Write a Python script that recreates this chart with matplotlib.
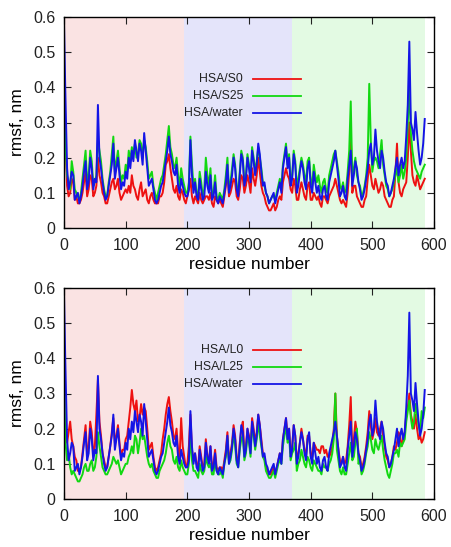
import matplotlib
matplotlib.use("Agg")
import matplotlib.pyplot as plt
import numpy as np

plt.rcParams['font.family'] = ['Liberation Sans', 'DejaVu Sans']

# residue numbers: main samples every 5 residues (plus the steep start),
# and in-between samples at the half steps
residue = [0, 2] + list(range(5, 590, 5))
residue_mid = list(np.arange(7.5, 585, 5))

# domain boundaries (I, II, III)
domain_edges = [0, 195, 370, 585]
domain_colors = ['#fae3e3', '#e4e4fa', '#e3fae3']

# HSA in water (same in both panels)
water = [0.58, 0.40,
         0.17, 0.13, 0.15, 0.09, 0.07, 0.12, 0.19, 0.13, 0.17, 0.14,
         0.35, 0.17, 0.10, 0.09, 0.15, 0.24, 0.17, 0.15, 0.13, 0.16,
         0.20, 0.22, 0.25, 0.19, 0.22, 0.27, 0.17, 0.13, 0.11, 0.07,
         0.10, 0.13, 0.19, 0.26, 0.19, 0.15, 0.12, 0.14, 0.10, 0.09,
         0.25, 0.10, 0.09, 0.14, 0.08, 0.16, 0.10, 0.08, 0.13, 0.07,
         0.08, 0.10, 0.18, 0.12, 0.20, 0.11, 0.15, 0.19, 0.14, 0.17,
         0.22, 0.15, 0.24, 0.16, 0.13, 0.09, 0.08, 0.10, 0.09, 0.13,
         0.17, 0.23, 0.20, 0.14, 0.18, 0.12, 0.19, 0.13, 0.17, 0.12,
         0.16, 0.10, 0.09, 0.11, 0.09, 0.13, 0.17, 0.22, 0.14, 0.10,
         0.09, 0.14, 0.22, 0.15, 0.17, 0.11, 0.09, 0.14, 0.22, 0.18,
         0.28, 0.19, 0.22, 0.16, 0.12, 0.10, 0.14, 0.20, 0.18, 0.17,
         0.26, 0.53, 0.28, 0.33, 0.22, 0.20, 0.31]
water_mid = [0.11, 0.16, 0.08, 0.10, 0.09, 0.16, 0.11, 0.20, 0.11, 0.13,
             0.20, 0.13, 0.08, 0.12, 0.18, 0.14, 0.20, 0.11, 0.12, 0.14,
             0.17, 0.19, 0.22, 0.24, 0.18, 0.22, 0.12, 0.14, 0.08, 0.08,
             0.12, 0.16, 0.22, 0.21, 0.16, 0.18, 0.10, 0.12, 0.09, 0.11,
             0.15, 0.13, 0.08, 0.11, 0.09, 0.12, 0.15, 0.09, 0.08, 0.09,
             0.07, 0.13, 0.10, 0.15, 0.17, 0.09, 0.21, 0.12, 0.20, 0.13,
             0.19, 0.18, 0.21, 0.12, 0.10, 0.07, 0.09, 0.07, 0.11, 0.10,
             0.20, 0.17, 0.12, 0.21, 0.10, 0.16, 0.17, 0.11, 0.19, 0.10,
             0.13, 0.12, 0.08, 0.12, 0.08, 0.15, 0.19, 0.18, 0.09, 0.12,
             0.08, 0.18, 0.12, 0.19, 0.13, 0.08, 0.11, 0.17, 0.24, 0.20,
             0.22, 0.17, 0.20, 0.13, 0.09, 0.12, 0.17, 0.15, 0.20, 0.19,
             0.35, 0.30, 0.25, 0.27, 0.18, 0.24]

# HSA/S0
s0 = [0.40, 0.28,
      0.12, 0.10, 0.13, 0.09, 0.07, 0.10, 0.16, 0.11, 0.14, 0.10,
      0.20, 0.13, 0.09, 0.07, 0.11, 0.14, 0.12, 0.10, 0.09, 0.11,
      0.12, 0.15, 0.11, 0.08, 0.13, 0.10, 0.08, 0.09, 0.08, 0.07,
      0.09, 0.10, 0.18, 0.21, 0.14, 0.10, 0.09, 0.11, 0.08, 0.09,
      0.14, 0.07, 0.08, 0.10, 0.07, 0.09, 0.08, 0.07, 0.09, 0.07,
      0.07, 0.09, 0.16, 0.10, 0.14, 0.09, 0.11, 0.14, 0.12, 0.13,
      0.17, 0.12, 0.20, 0.12, 0.09, 0.06, 0.05, 0.07, 0.06, 0.09,
      0.13, 0.17, 0.14, 0.10, 0.12, 0.08, 0.13, 0.09, 0.12, 0.08,
      0.10, 0.08, 0.07, 0.09, 0.08, 0.09, 0.11, 0.14, 0.10, 0.07,
      0.07, 0.10, 0.27, 0.12, 0.09, 0.07, 0.06, 0.09, 0.18, 0.12,
      0.14, 0.10, 0.13, 0.09, 0.07, 0.06, 0.09, 0.24, 0.10, 0.11,
      0.13, 0.30, 0.15, 0.12, 0.13, 0.12, 0.14]
s0_mid = [0.09, 0.14, 0.08, 0.07, 0.08, 0.13, 0.09, 0.15, 0.09, 0.12,
          0.15, 0.10, 0.07, 0.09, 0.13, 0.11, 0.14, 0.08, 0.10, 0.10,
          0.10, 0.12, 0.09, 0.11, 0.09, 0.11, 0.07, 0.10, 0.07, 0.07,
          0.09, 0.13, 0.19, 0.17, 0.11, 0.12, 0.08, 0.10, 0.07, 0.11,
          0.09, 0.09, 0.07, 0.08, 0.08, 0.09, 0.10, 0.06, 0.08, 0.08,
          0.06, 0.12, 0.09, 0.12, 0.13, 0.08, 0.15, 0.10, 0.15, 0.10,
          0.14, 0.15, 0.16, 0.10, 0.07, 0.05, 0.06, 0.05, 0.08, 0.08,
          0.15, 0.15, 0.11, 0.14, 0.08, 0.11, 0.11, 0.08, 0.13, 0.08,
          0.09, 0.09, 0.06, 0.09, 0.07, 0.10, 0.12, 0.12, 0.08, 0.08,
          0.06, 0.16, 0.10, 0.12, 0.08, 0.06, 0.08, 0.14, 0.15, 0.11,
          0.12, 0.11, 0.12, 0.08, 0.06, 0.08, 0.16, 0.13, 0.09, 0.12,
          0.20, 0.22, 0.13, 0.15, 0.11, 0.13]

# HSA/S25
s25 = [0.33, 0.25,
       0.15, 0.11, 0.16, 0.10, 0.08, 0.14, 0.22, 0.15, 0.19, 0.13,
       0.25, 0.19, 0.11, 0.09, 0.16, 0.26, 0.19, 0.17, 0.15, 0.18,
       0.22, 0.23, 0.24, 0.21, 0.24, 0.25, 0.19, 0.15, 0.12, 0.08,
       0.12, 0.15, 0.21, 0.29, 0.21, 0.17, 0.15, 0.17, 0.12, 0.10,
       0.26, 0.12, 0.10, 0.16, 0.09, 0.20, 0.12, 0.09, 0.15, 0.08,
       0.09, 0.11, 0.20, 0.13, 0.21, 0.12, 0.16, 0.20, 0.15, 0.18,
       0.23, 0.16, 0.23, 0.17, 0.12, 0.09, 0.08, 0.09, 0.10, 0.14,
       0.18, 0.24, 0.21, 0.15, 0.19, 0.14, 0.20, 0.15, 0.19, 0.14,
       0.18, 0.13, 0.12, 0.13, 0.11, 0.15, 0.19, 0.22, 0.16, 0.11,
       0.10, 0.16, 0.36, 0.17, 0.15, 0.12, 0.10, 0.15, 0.41, 0.16,
       0.20, 0.17, 0.25, 0.15, 0.11, 0.10, 0.13, 0.17, 0.15, 0.14,
       0.20, 0.40, 0.22, 0.17, 0.15, 0.16, 0.18]
s25_mid = [0.13, 0.19, 0.11, 0.09, 0.10, 0.18, 0.13, 0.22, 0.12, 0.15,
           0.22, 0.14, 0.09, 0.13, 0.21, 0.16, 0.22, 0.13, 0.14, 0.16,
           0.19, 0.21, 0.20, 0.25, 0.20, 0.23, 0.14, 0.16, 0.10, 0.10,
           0.14, 0.18, 0.25, 0.23, 0.18, 0.20, 0.12, 0.14, 0.10, 0.13,
           0.18, 0.14, 0.09, 0.13, 0.11, 0.15, 0.17, 0.10, 0.09, 0.10,
           0.08, 0.15, 0.11, 0.17, 0.18, 0.10, 0.22, 0.13, 0.21, 0.14,
           0.20, 0.19, 0.20, 0.13, 0.10, 0.07, 0.09, 0.08, 0.12, 0.11,
           0.21, 0.18, 0.13, 0.22, 0.12, 0.17, 0.18, 0.13, 0.20, 0.12,
           0.15, 0.15, 0.10, 0.14, 0.10, 0.17, 0.21, 0.19, 0.12, 0.13,
           0.11, 0.22, 0.14, 0.20, 0.13, 0.09, 0.12, 0.20, 0.25, 0.19,
           0.19, 0.21, 0.18, 0.12, 0.09, 0.11, 0.15, 0.13, 0.18, 0.16,
           0.30, 0.27, 0.19, 0.16, 0.14, 0.17]

# HSA/L0
l0 = [0.23, 0.20,
      0.16, 0.22, 0.15, 0.11, 0.08, 0.13, 0.21, 0.15, 0.19, 0.15,
      0.34, 0.18, 0.11, 0.09, 0.15, 0.23, 0.18, 0.16, 0.14, 0.17,
      0.22, 0.31, 0.25, 0.22, 0.27, 0.26, 0.20, 0.15, 0.12, 0.08,
      0.11, 0.17, 0.24, 0.29, 0.22, 0.17, 0.14, 0.23, 0.12, 0.10,
      0.24, 0.11, 0.10, 0.15, 0.09, 0.17, 0.11, 0.09, 0.14, 0.08,
      0.09, 0.11, 0.19, 0.13, 0.21, 0.12, 0.16, 0.22, 0.15, 0.18,
      0.23, 0.16, 0.24, 0.17, 0.12, 0.08, 0.07, 0.09, 0.09, 0.13,
      0.17, 0.23, 0.20, 0.15, 0.18, 0.13, 0.20, 0.14, 0.18, 0.13,
      0.16, 0.14, 0.13, 0.15, 0.14, 0.12, 0.15, 0.30, 0.14, 0.10,
      0.10, 0.15, 0.29, 0.17, 0.19, 0.12, 0.10, 0.15, 0.25, 0.17,
      0.23, 0.18, 0.22, 0.15, 0.11, 0.10, 0.15, 0.16, 0.18, 0.17,
      0.24, 0.30, 0.22, 0.24, 0.17, 0.16, 0.19]
l0_mid = [0.19, 0.17, 0.12, 0.08, 0.09, 0.17, 0.13, 0.22, 0.13, 0.24,
          0.22, 0.13, 0.09, 0.12, 0.19, 0.16, 0.21, 0.12, 0.14, 0.18,
          0.26, 0.27, 0.28, 0.23, 0.24, 0.25, 0.14, 0.16, 0.09, 0.09,
          0.13, 0.20, 0.27, 0.25, 0.18, 0.20, 0.12, 0.15, 0.09, 0.15,
          0.14, 0.13, 0.09, 0.12, 0.10, 0.12, 0.15, 0.10, 0.09, 0.09,
          0.08, 0.14, 0.11, 0.16, 0.18, 0.10, 0.20, 0.13, 0.20, 0.14,
          0.20, 0.19, 0.21, 0.13, 0.09, 0.07, 0.08, 0.07, 0.11, 0.11,
          0.20, 0.18, 0.13, 0.21, 0.11, 0.16, 0.17, 0.12, 0.18, 0.12,
          0.15, 0.14, 0.15, 0.13, 0.12, 0.13, 0.20, 0.18, 0.11, 0.12,
          0.11, 0.21, 0.13, 0.22, 0.13, 0.09, 0.12, 0.19, 0.21, 0.19,
          0.19, 0.20, 0.18, 0.12, 0.09, 0.12, 0.14, 0.19, 0.15, 0.19,
          0.26, 0.24, 0.20, 0.20, 0.18, 0.17]

# HSA/L25
l25 = [0.40, 0.17,
       0.11, 0.09, 0.08, 0.06, 0.05, 0.07, 0.10, 0.08, 0.11, 0.09,
       0.19, 0.12, 0.08, 0.07, 0.09, 0.12, 0.10, 0.09, 0.08, 0.10,
       0.12, 0.15, 0.18, 0.13, 0.20, 0.18, 0.12, 0.09, 0.08, 0.06,
       0.08, 0.10, 0.13, 0.18, 0.14, 0.10, 0.09, 0.11, 0.08, 0.07,
       0.18, 0.08, 0.07, 0.10, 0.07, 0.12, 0.09, 0.07, 0.11, 0.07,
       0.08, 0.10, 0.17, 0.11, 0.19, 0.10, 0.14, 0.18, 0.13, 0.16,
       0.21, 0.14, 0.22, 0.15, 0.11, 0.07, 0.06, 0.08, 0.08, 0.11,
       0.15, 0.21, 0.18, 0.13, 0.16, 0.10, 0.14, 0.10, 0.12, 0.09,
       0.11, 0.09, 0.08, 0.10, 0.09, 0.10, 0.13, 0.30, 0.11, 0.07,
       0.07, 0.10, 0.16, 0.12, 0.20, 0.11, 0.08, 0.13, 0.19, 0.14,
       0.17, 0.14, 0.18, 0.11, 0.07, 0.08, 0.13, 0.14, 0.16, 0.16,
       0.22, 0.28, 0.20, 0.27, 0.21, 0.25, 0.26]
l25_mid = [0.13, 0.07, 0.07, 0.05, 0.06, 0.09, 0.08, 0.10, 0.08, 0.12,
           0.15, 0.09, 0.07, 0.08, 0.10, 0.11, 0.11, 0.07, 0.09, 0.10,
           0.13, 0.13, 0.17, 0.16, 0.17, 0.15, 0.10, 0.10, 0.07, 0.06,
           0.09, 0.11, 0.16, 0.15, 0.11, 0.12, 0.08, 0.09, 0.07, 0.10,
           0.11, 0.08, 0.06, 0.08, 0.08, 0.10, 0.10, 0.07, 0.08, 0.07,
           0.06, 0.12, 0.10, 0.14, 0.15, 0.09, 0.17, 0.11, 0.18, 0.12,
           0.18, 0.17, 0.18, 0.12, 0.08, 0.06, 0.07, 0.06, 0.10, 0.10,
           0.18, 0.16, 0.11, 0.14, 0.08, 0.11, 0.12, 0.09, 0.11, 0.08,
           0.10, 0.08, 0.07, 0.09, 0.08, 0.11, 0.17, 0.14, 0.08, 0.09,
           0.07, 0.13, 0.11, 0.16, 0.10, 0.07, 0.10, 0.15, 0.17, 0.13,
           0.15, 0.16, 0.14, 0.09, 0.06, 0.10, 0.13, 0.12, 0.15, 0.17,
           0.25, 0.23, 0.22, 0.24, 0.19, 0.23]

colors = ['#ee1111', '#11d811', '#1414e6']
panels = [
    (['HSA/S0', 'HSA/S25', 'HSA/water'], [(s0, s0_mid), (s25, s25_mid), (water, water_mid)]),
    (['HSA/L0', 'HSA/L25', 'HSA/water'], [(l0, l0_mid), (l25, l25_mid), (water, water_mid)]),
]


def merge(main, mid):
    x = np.array(residue + residue_mid, dtype=float)
    y = np.array(main + mid)
    order = np.argsort(x)
    return x[order], y[order]


W, H = 452, 547
fig = plt.figure(figsize=(W / 100, H / 100), dpi=100)

# axes boxes in pixels: left, top, right, bottom
boxes = [(64, 17, 434, 228), (64, 288, 434, 499)]

yticks = [0, 0.1, 0.2, 0.3, 0.4, 0.5, 0.6]
ylabels = ['0', '0.1', '0.2', '0.3', '0.4', '0.5', '0.6']

for (labels, series), (l, t, r, b) in zip(panels, boxes):
    ax = fig.add_axes([l / W, 1 - b / H, (r - l) / W, (b - t) / H])
    for i, c in enumerate(domain_colors):
        ax.axvspan(domain_edges[i], domain_edges[i + 1], color=c, lw=0, zorder=0)
    for (main, mid), c in zip(series, colors):
        x, y = merge(main, mid)
        ax.plot(x, y, color=c, lw=1.4, zorder=2)
    ax.set_xlim(0, 600)
    ax.set_ylim(0, 0.6)
    ax.set_xticks(range(0, 601, 100))
    ax.set_yticks(yticks)
    ax.set_yticklabels(ylabels)
    ax.tick_params(direction='in', length=5, width=0.8, top=True, right=True,
                   labelsize=11.5, colors='#222222')
    ax.tick_params(axis='x', pad=7)
    ax.tick_params(axis='y', pad=6)
    for s in ax.spines.values():
        s.set_linewidth(1.0)
    ax.set_xlabel('residue number', fontsize=12.5, labelpad=3)
    ax.set_ylabel('rmsf, nm', fontsize=12.5, labelpad=6)

    # key, gnuplot style: text then line
    for k, (lab, c) in enumerate(zip(labels, colors)):
        yk = 0.706 - k * 0.081
        ax.text(0.484, yk, lab, transform=ax.transAxes, ha='right', va='center',
                fontsize=8.8, color='#222222')
        ax.plot([0.511, 0.641], [yk, yk], transform=ax.transAxes, color=c, lw=1.3)

fig.savefig('out.png', dpi=100)
